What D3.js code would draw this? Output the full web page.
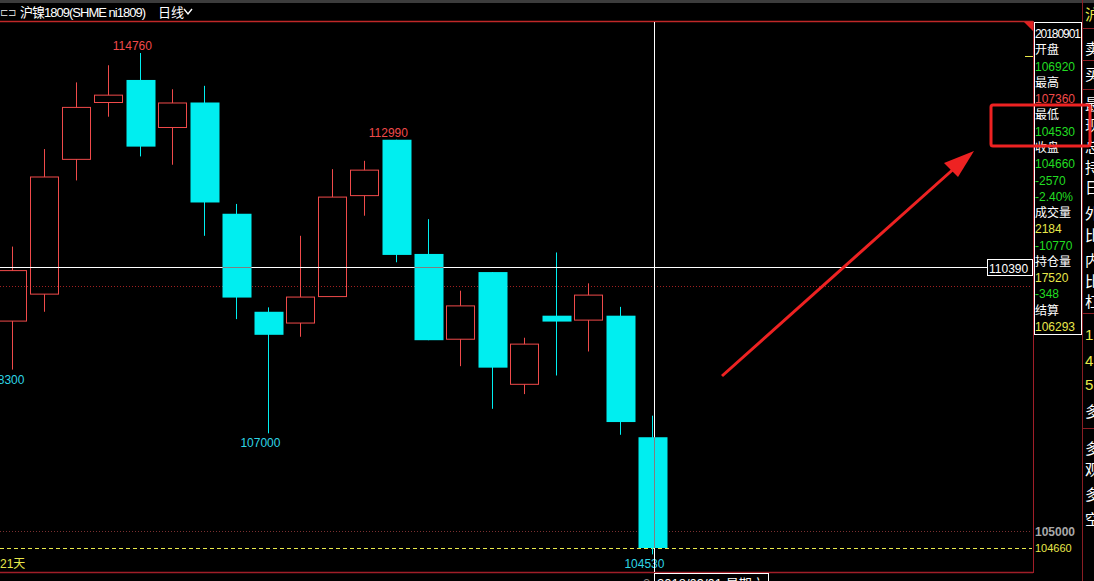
<!DOCTYPE html>
<html>
<head>
<meta charset="utf-8">
<script src="https://cdnjs.cloudflare.com/ajax/libs/d3/7.8.5/d3.min.js"></script>
<style>
  html, body { margin: 0; padding: 0; background: #000; overflow: hidden; }
  text { font-family: "Liberation Sans", "Noto Sans CJK SC", sans-serif; }
</style>
</head>
<body>
<script>
// daily bars, SHFE ni1809, oldest first (last one is 2018/09/01)
var opens  = [109290,109840,112590,113750,114210,113240,113750,111480,109480,109250,109790,111850,112990,110660,108920,110290,108000,109400,109310,109400,106920];
var highs  = [110810,112800,114160,114510,114760,114020,114090,111680,109570,111030,112390,112560,112990,111370,109910,110290,108950,110690,110060,109580,107360];
var lows   = [108300,109480,112160,113460,112650,112480,111030,109330,107000,108970,109790,111440,110490,108900,108370,107500,107800,108180,108670,106970,104530];
var closes = [110320,112230,113650,113900,112850,113740,111710,109770,109010,109780,111820,112370,110640,108900,109600,108340,108820,109280,109820,107230,104660];

// high / low marks drawn on the chart
var markIdx  = [4, 12, 0, 8, 20];
var markType = ["high", "high", "low", "low", "low"];

// info panel on the right
var infoText = ["20180901","开盘","106920","最高","107360","最低","104530","收盘","104660","-2570","-2.40%","成交量","2184","-10770","持仓量","17520","-348","结算","106293"];
var infoKind = ["t","t","dn","t","up","t","dn","t","dn","dn","dn","t","vol","dn","t","vol","dn","t","vol"];

var gridPrices = [110000, 105000];
var lastClose = 104660;
var crossPrice = 110390;
var crossIdx = 20;
var sideChars = ["卖","买","最","现","总","持","日","外","比","内","比","杠","1","4","5","多","多","观","多","空"];

var W = 1094, H = 581;
var RED = "#f04a4a", CYAN = "#00eef0", GREEN = "#22dd22", YEL = "#e8e84a";
var kindColor = {t: "#ffffff", up: RED, dn: GREEN, vol: YEL};

var svg = d3.select("body").append("svg")
  .attr("width", W).attr("height", H)
  .style("background", "#000");

var x = d3.scaleLinear().domain([0, 20]).range([12.4, 652.4]);
var y = d3.scaleLinear().domain([104660, 114760]).range([548, 53]);
var bw = 28;

// top strip + title
svg.append("rect").attr("x", 0).attr("y", 0).attr("width", W).attr("height", 3).attr("fill", "#3c3c3c");
svg.append("text").attr("x", 0).attr("y", 16).attr("fill", "#cfcfcf").attr("font-size", 10).text("⊏⊐");
svg.append("text").attr("x", 20).attr("y", 17).attr("fill", "#fff").attr("font-size", 13)
  .attr("font-family", "'Noto Sans CJK SC', 'Liberation Mono', monospace")
  .attr("textLength", 126).text("沪镍1809(SHME ni1809)");
svg.append("text").attr("x", 158).attr("y", 17).attr("fill", "#fff").attr("font-size", 13)
  .attr("font-family", "'Noto Sans CJK SC', sans-serif").text("日线");
svg.append("path").attr("d", "M184,9 L188,14 L192,9").attr("stroke", "#fff").attr("stroke-width", 1.4).attr("fill", "none");

// chart frame
var frame = svg.append("g");
frame.append("line").attr("x1", 0).attr("x2", 1033).attr("y1", 21.5).attr("y2", 21.5).attr("stroke", "#c02828").attr("stroke-width", 1.5);
frame.append("line").attr("x1", 0).attr("x2", 1033).attr("y1", 572.5).attr("y2", 572.5).attr("stroke", "#a01e28").attr("stroke-width", 1.5);
frame.append("line").attr("x1", 1033.5).attr("x2", 1033.5).attr("y1", 21).attr("y2", 573).attr("stroke", "#a01e28");
frame.append("path").attr("d", "M1024,22 L1033,22 L1033,31 Z").attr("fill", "#e02020");
frame.append("line").attr("x1", 1082.5).attr("x2", 1082.5).attr("y1", 0).attr("y2", H).attr("stroke", "#8a1e24");

// grid lines
svg.selectAll(".grid").data(gridPrices).enter().append("line")
  .attr("class", "grid")
  .attr("x1", 0).attr("x2", 1032)
  .attr("y1", function(d) { return Math.round(y(d)) + 0.5; })
  .attr("y2", function(d) { return Math.round(y(d)) + 0.5; })
  .attr("stroke", function(d, i) { return i === 0 ? "#a02020" : "#7a3030"; })
  .attr("stroke-dasharray", "1,2");

// last close line
svg.append("line").attr("x1", 0).attr("x2", 1032)
  .attr("y1", Math.round(y(lastClose)) + 0.5).attr("y2", Math.round(y(lastClose)) + 0.5)
  .attr("stroke", YEL).attr("stroke-dasharray", "4,3");

// candles
var bars = d3.range(opens.length);
var g = svg.append("g");
bars.forEach(function(i) {
  var up = closes[i] >= opens[i];
  var cx = Math.round(x(i)) + 0.5;
  var top = y(Math.max(opens[i], closes[i])), bot = y(Math.min(opens[i], closes[i]));
  var col = up ? RED : CYAN;
  if (up) {
    g.append("line").attr("x1", cx).attr("x2", cx).attr("y1", y(highs[i])).attr("y2", top).attr("stroke", col);
    g.append("line").attr("x1", cx).attr("x2", cx).attr("y1", bot).attr("y2", y(lows[i])).attr("stroke", col);
    g.append("rect").attr("x", cx - bw / 2).attr("y", top).attr("width", bw).attr("height", Math.max(1, bot - top))
      .attr("fill", "none").attr("stroke", col);
  } else {
    g.append("line").attr("x1", cx).attr("x2", cx).attr("y1", y(highs[i])).attr("y2", y(lows[i])).attr("stroke", col);
    g.append("rect").attr("x", cx - bw / 2).attr("y", top).attr("width", bw + 1).attr("height", Math.max(1, bot - top))
      .attr("fill", col);
  }
});

// high / low marks
svg.selectAll(".mark").data(markIdx).enter().append("text")
  .attr("class", "mark")
  .attr("x", function(d) { return x(d) - 8; })
  .attr("y", function(d, i) { return markType[i] === "high" ? y(highs[d]) - 3 : y(lows[d]) + 14; })
  .attr("text-anchor", "middle")
  .attr("font-size", 12)
  .attr("fill", function(d, i) { return markType[i] === "high" ? RED : "#2ed6e6"; })
  .text(function(d, i) { return markType[i] === "high" ? highs[d] : lows[d]; });

// crosshair (drawn grey where it passes over a filled cyan body)
var cyy = Math.round(y(crossPrice)) + 0.5;
var cxx = Math.round(x(crossIdx)) + 2.5;
svg.append("line").attr("x1", 0).attr("x2", 987).attr("y1", cyy).attr("y2", cyy).attr("stroke", "#fff");
svg.append("line").attr("x1", cxx).attr("x2", cxx).attr("y1", 22).attr("y2", 572).attr("stroke", "#fff");
bars.forEach(function(i) {
  if (closes[i] < opens[i] && crossPrice <= opens[i] && crossPrice >= closes[i]) {
    var cx = Math.round(x(i)) + 0.5;
    svg.append("line").attr("x1", cx - bw / 2).attr("x2", cx + bw / 2 + 1).attr("y1", cyy).attr("y2", cyy).attr("stroke", "#808080");
  }
});
svg.append("line").attr("x1", cxx).attr("x2", cxx).attr("y1", y(opens[crossIdx])).attr("y2", y(closes[crossIdx]))
  .attr("stroke", "#808080");
svg.append("rect").attr("x", 987.5).attr("y", cyy - 8).attr("width", 45).attr("height", 16)
  .attr("fill", "#000").attr("stroke", "#fff");
svg.append("text").attr("x", 989).attr("y", cyy + 5).attr("fill", "#fff").attr("font-size", 12).text(crossPrice);

// axis labels on the right
svg.append("text").attr("x", 1035).attr("y", y(105000) + 5).attr("fill", "#a8a8a8").attr("font-size", 12)
  .attr("font-weight", "bold").text(gridPrices[1]);
svg.append("text").attr("x", 1035).attr("y", y(lastClose) + 4).attr("fill", YEL).attr("font-size", 11).text(lastClose);
svg.append("line").attr("x1", 1025).attr("x2", 1033).attr("y1", 56.5).attr("y2", 56.5).attr("stroke", YEL);

// info panel
svg.append("rect").attr("x", 1034.5).attr("y", 22.5).attr("width", 47).attr("height", 312)
  .attr("fill", "#000").attr("stroke", "#fff");
svg.selectAll(".info").data(infoText).enter().append("text")
  .attr("class", "info")
  .attr("x", 1035)
  .attr("y", function(d, i) { return 38 + i * 16.28; })
  .attr("font-size", 12)
  .attr("fill", function(d, i) { return kindColor[infoKind[i]]; })
  .attr("textLength", function(d, i) { return i === 0 ? 46 : null; })
  .text(function(d) { return d; });

// far right strip, mostly cut off
var sideY = [47, 73, 103, 124, 145, 166, 186, 212, 234, 259, 280, 300, 333, 359, 383, 410, 447, 468, 493, 518];
var side = svg.append("g");
side.selectAll("text").data(sideChars).enter().append("text")
  .attr("x", 1085)
  .attr("y", function(d, i) { return sideY[i] + 7; })
  .attr("font-size", 15)
  .attr("fill", function(d, i) { return (i >= 12 && i <= 14) ? YEL : "#fff"; })
  .text(function(d) { return d; });
side.append("text").attr("x", 1085).attr("y", 20).attr("font-size", 15).attr("fill", YEL).text("沪");
[28, 60, 89, 313, 428].forEach(function(v) {
  side.append("line").attr("x1", 1083).attr("x2", W).attr("y1", v + 0.5).attr("y2", v + 0.5).attr("stroke", "#8a1e24");
});

// bottom texts
svg.append("text").attr("x", 0).attr("y", 568).attr("fill", YEL).attr("font-size", 12).text("21天");
svg.append("rect").attr("x", 654.5).attr("y", 573.5).attr("width", 114).attr("height", 20).attr("fill", "#000").attr("stroke", "#fff");
svg.append("text").attr("x", 657).attr("y", 588).attr("fill", "#fff").attr("font-size", 13).text("2018/09/01 星期六");
svg.append("text").attr("x", 643).attr("y", 588).attr("fill", "#888").attr("font-size", 13).text("2");

// red annotation
var ann = svg.append("g");
ann.append("rect").attr("x", 991).attr("y", 105).attr("width", 99).attr("height", 41).attr("rx", 2)
  .attr("fill", "none").attr("stroke", "#ee2222").attr("stroke-width", 3);
ann.append("line").attr("x1", 722).attr("y1", 376).attr("x2", 958).attr("y2", 165)
  .attr("stroke", "#ee2222").attr("stroke-width", 3);
ann.append("path").attr("d", "M974,151 L944,163 L958,177 Z").attr("fill", "#ee2222");
</script>
</body>
</html>
